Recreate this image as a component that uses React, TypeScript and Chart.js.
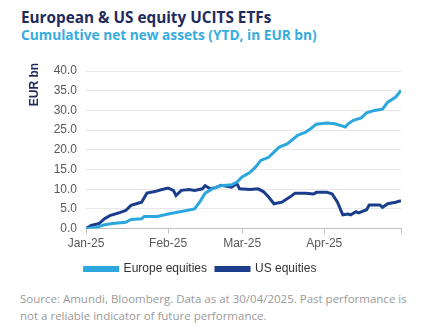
import React, { useEffect, useRef } from "react";
import { Chart, registerables } from "chart.js";

Chart.register(...registerables);

// Day index (0 = 1 Jan 2025) and cumulative net new assets (EUR bn)
const europeDays = [0, 4, 7, 10, 15, 17, 21, 22, 27, 31, 34, 38, 41, 43, 45, 48, 51, 55, 57, 59, 62, 64, 66, 69, 71, 73, 76, 80, 83, 85, 87, 91, 94, 96, 98, 99, 101, 104, 106, 109, 112, 114, 117, 119];
const europeValues = [0, 0.3, 1.0, 1.3, 1.6, 2.3, 2.5, 3.1, 3.1, 3.7, 4.1, 4.6, 5.0, 6.8, 9.0, 10.2, 10.9, 11.1, 11.8, 13.1, 14.3, 15.6, 17.3, 18.1, 19.4, 20.7, 21.5, 23.7, 24.5, 25.4, 26.5, 26.8, 26.6, 26.2, 25.8, 26.6, 27.5, 28.1, 29.4, 30.0, 30.3, 32.1, 33.4, 35.1];

const usDays = [0, 2, 5, 7, 9, 13, 15, 17, 19, 21, 23, 26, 28, 31, 33, 34, 36, 39, 41, 44, 45, 47, 49, 51, 55, 57, 58, 62, 65, 67, 69, 71, 74, 77, 79, 83, 86, 87, 91, 93, 95, 97, 99, 100, 102, 103, 106, 107, 111, 112, 114, 117, 119];
const usValues = [0, 0.8, 1.3, 2.5, 3.3, 4.1, 4.6, 5.9, 6.3, 6.7, 9.0, 9.4, 9.8, 10.3, 9.7, 8.4, 9.7, 9.9, 9.7, 10.1, 10.9, 10.1, 10.4, 11.0, 10.5, 11.4, 10.1, 9.9, 10.1, 9.4, 8.0, 6.3, 6.7, 8.0, 9.0, 9.0, 8.8, 9.2, 9.2, 8.8, 6.7, 3.5, 3.7, 3.5, 4.3, 4.0, 4.8, 6.0, 6.0, 5.4, 6.3, 6.7, 7.1];

const monthTickDays = [0, 31, 59, 90, 119];
const monthTickLabels = ["Jan-25", "Feb-25", "Mar-25", "Apr-25", ""];

const seriesNames = ["Europe equities", "US equities"];
const seriesColors = ["#2ca7de", "#1b3e8c"];

const yAxisTitle = "EUR bn";
const titleText = "European & US equity UCITS ETFs";
const subtitleText = "Cumulative net new assets (YTD, in EUR bn)";
const sourceText =
  "Source: Amundi, Bloomberg. Data as at 30/04/2025. Past performance is not a reliable indicator of future performance.";

const yTitlePlugin = {
  id: "yTitle",
  afterDraw(chart: any) {
    const ctx = chart.ctx;
    ctx.save();
    ctx.translate(35, 84.5);
    ctx.rotate(-Math.PI / 2);
    ctx.font = "bold 12px 'Liberation Sans', Arial, sans-serif";
    ctx.fillStyle = "#1e2b5c";
    ctx.textAlign = "center";
    ctx.textBaseline = "middle";
    ctx.fillText(yAxisTitle, 0, 0);
    ctx.restore();
  },
};

export default function App() {
  const ref = useRef<HTMLCanvasElement>(null);

  useEffect(() => {
    if (!ref.current) return;
    const toPoints = (xs: number[], ys: number[]) => xs.map((x, i) => ({ x, y: ys[i] }));
    const chart = new Chart(ref.current, {
      type: "line",
      data: {
        datasets: [
          {
            label: seriesNames[0],
            data: toPoints(europeDays, europeValues),
            borderColor: seriesColors[0],
            backgroundColor: seriesColors[0],
            borderWidth: 3,
            pointRadius: 0,
            tension: 0,
          },
          {
            label: seriesNames[1],
            data: toPoints(usDays, usValues),
            borderColor: seriesColors[1],
            backgroundColor: seriesColors[1],
            borderWidth: 3,
            pointRadius: 0,
            tension: 0,
          },
        ],
      },
      options: {
        animation: false,
        responsive: false,
        devicePixelRatio: 1,
        layout: { padding: { top: 71, right: 27, bottom: 5, left: 0 } },
        plugins: {
          legend: {
            position: "bottom",
            labels: {
              boxWidth: 33,
              boxHeight: 3,
              padding: 9,
              color: "#333333",
              font: { family: "'Liberation Sans', Arial, sans-serif", size: 12 },
            },
          },
          tooltip: { enabled: false },
        },
        scales: {
          x: {
            type: "linear",
            min: 0,
            max: 119,
            afterBuildTicks: (scale: any) => {
              scale.ticks = monthTickDays.map((v) => ({ value: v }));
            },
            ticks: {
              autoSkip: false,
              maxRotation: 0,
              padding: 3,
              color: "#595959",
              font: { family: "'Liberation Sans', Arial, sans-serif", size: 12 },
              callback: (v: any) => {
                const i = monthTickDays.indexOf(Number(v));
                return i >= 0 ? monthTickLabels[i] : "";
              },
            },
            grid: {
              drawOnChartArea: false,
              drawTicks: true,
              tickLength: 5,
              color: "#bfbfbf",
            },
            border: { display: true, color: "#bfbfbf", width: 1 },
          },
          y: {
            min: 0,
            max: 40,
            afterFit: (scale: any) => {
              scale.width = 86;
            },
            ticks: {
              stepSize: 5,
              padding: 9,
              color: "#595959",
              font: { family: "'Liberation Sans', Arial, sans-serif", size: 12 },
              callback: (v: any) => Number(v).toFixed(1),
            },
            grid: { color: "#e8e8e8", drawTicks: false },
            border: { display: false },
          },
        },
      },
      plugins: [yTitlePlugin],
    });
    return () => chart.destroy();
  }, []);

  return (
    <div
      style={{
        position: "absolute",
        left: 0,
        top: 0,
        width: 428,
        height: 336,
        background: "#ffffff",
        overflow: "hidden",
      }}
    >
      <div
        style={{
          position: "absolute",
          left: 21,
          top: 7,
          fontFamily: "'Open Sans', sans-serif",
          fontWeight: 700,
          fontSize: 15.3,
          lineHeight: "20px",
          color: "#1e2b5c",
          whiteSpace: "nowrap",
        }}
      >
        {titleText}
      </div>
      <div
        style={{
          position: "absolute",
          left: 21,
          top: 25,
          fontFamily: "'Open Sans', sans-serif",
          fontWeight: 700,
          fontSize: 13.7,
          lineHeight: "20px",
          color: "#35ade0",
          whiteSpace: "nowrap",
        }}
      >
        {subtitleText}
      </div>
      <canvas ref={ref} width={428} height={290} style={{ position: "absolute", left: 0, top: 0 }} />
      <div
        style={{
          position: "absolute",
          left: 20,
          top: 290,
          width: 400,
          fontFamily: "'Open Sans', sans-serif",
          fontSize: 11.5,
          lineHeight: "17px",
          color: "#9a9a9a",
        }}
      >
        {sourceText}
      </div>
    </div>
  );
}
